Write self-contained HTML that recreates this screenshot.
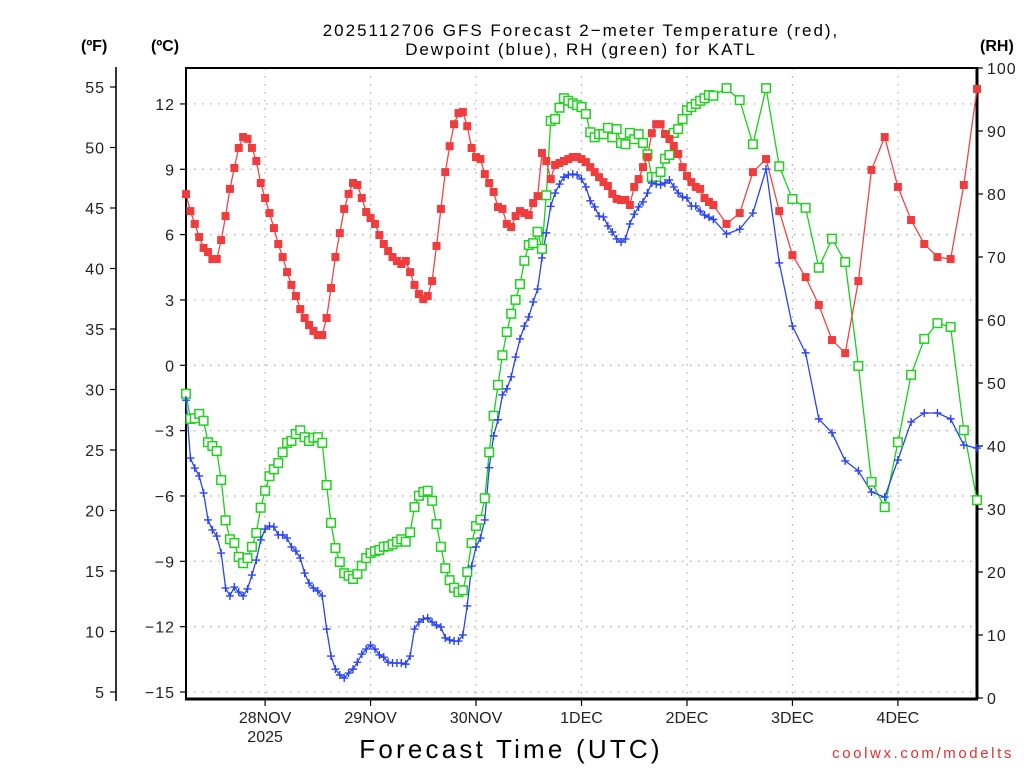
<!DOCTYPE html>
<html><head><meta charset="utf-8"><style>
html,body{margin:0;padding:0;background:#fff;}
svg{display:block;font-family:"Liberation Sans",sans-serif;}
</style></head><body>
<svg id="chart" width="1024" height="768" viewBox="0 0 1024 768">
<g id="grid"></g>
<g id="axes"></g>
<g id="series"></g>
<text x="581" y="36" text-anchor="middle" font-size="17" letter-spacing="2" fill="#000">2025112706 GFS Forecast 2−meter Temperature (red),</text>
<text x="581" y="55" text-anchor="middle" font-size="17" letter-spacing="1.9" fill="#000">Dewpoint (blue), RH (green) for KATL</text>
<text x="81" y="51" font-size="16" font-weight="bold">(ºF)</text>
<text x="151" y="51" font-size="16" font-weight="bold">(ºC)</text>
<text x="980" y="51" font-size="16" font-weight="bold">(RH)</text>
<text x="511" y="758" text-anchor="middle" font-size="26" letter-spacing="3.2">Forecast Time (UTC)</text>
<text x="1014" y="758" text-anchor="end" font-size="15" fill="#e03030" letter-spacing="2.6">coolwx.com/modelts</text>
</svg>
<script>
const dayLabels = ["28NOV","29NOV","30NOV","1DEC","2DEC","3DEC","4DEC"];
const dayHours = [18,42,66,90,114,138,162];
const cTicks = [12,9,6,3,0,-3,-6,-9,-12,-15];
const fTicks = [55,50,45,40,35,30,25,20,15,10,5];
const rhTicks = [100,90,80,70,60,50,40,30,20,10,0];
const temp = [7.86,7.08,6.49,5.89,5.39,5.2,4.88,4.88,5.75,6.85,8.1,9.06,9.98,10.48,10.4,9.98,9.38,8.37,7.68,6.99,6.3,5.57,4.97,4.28,3.69,3.18,2.58,2.17,1.85,1.58,1.39,1.39,2.17,3.55,4.97,6.07,7.18,7.87,8.37,8.28,7.68,7.04,6.76,6.49,5.98,5.57,5.25,4.97,4.79,4.65,4.79,4.28,3.69,3.27,3.04,3.18,3.87,5.48,7.18,8.87,10.06,11.07,11.58,11.63,10.98,9.98,9.56,9.47,8.78,8.37,7.96,7.27,7.18,6.49,6.35,6.85,7.08,6.99,6.9,7.45,7.77,9.75,9.38,8.55,9.2,9.29,9.38,9.47,9.56,9.56,9.47,9.33,9.1,8.87,8.64,8.41,8.23,7.87,7.64,7.59,7.59,7.36,8.19,8.55,9.1,9.56,10.66,11.07,11.07,10.62,10.39,10.07,9.7,9.1,8.69,8.41,8.19,8.1,7.68,7.5,7.36,
6.49,6.99,8.87,9.47,7.08,5.06,4.05,2.77,1.16,0.56,3.87,8.97,10.48,8.19,6.67,5.57,4.97,4.88,8.28,12.69];
const dewpt = [-1.6,-4.26,-4.72,-5.08,-5.86,-7.1,-7.56,-7.84,-8.62,-10.23,-10.59,-10.18,-10.41,-10.59,-10.27,-9.63,-8.94,-8.02,-7.52,-7.38,-7.42,-7.79,-7.79,-7.93,-8.34,-8.53,-8.85,-9.54,-10.0,-10.23,-10.36,-10.59,-12.11,-13.35,-13.95,-14.22,-14.36,-14.13,-13.95,-13.63,-13.26,-13.03,-12.84,-13.03,-13.3,-13.4,-13.63,-13.67,-13.67,-13.67,-13.72,-13.35,-12.11,-11.79,-11.65,-11.6,-11.79,-11.93,-12.02,-12.52,-12.61,-12.66,-12.66,-12.38,-11.05,-9.22,-8.34,-7.93,-7.1,-4.7,-3.24,-2.5,-1.36,-1.08,-0.53,0.38,1.21,1.8,2.22,2.91,3.5,4.93,6.08,7.3,7.91,8.32,8.64,8.74,8.78,8.74,8.55,8.19,7.55,7.27,6.85,6.81,6.4,6.12,5.8,5.66,5.8,6.49,6.94,7.27,7.5,7.91,8.37,8.32,8.28,8.37,8.51,8.19,7.91,7.73,7.68,7.31,7.31,7.08,6.9,6.8,6.7,
6.03,6.25,6.99,9.01,4.7,1.8,0.57,-2.46,-3.1,-4.39,-4.85,-5.82,-6.05,-4.35,-2.6,-2.19,-2.19,-2.46,-3.66,-3.8];
const rh = [48.3,44.3,44.4,45.1,44.0,40.6,40.0,39.2,34.6,28.2,25.2,24.6,22.4,21.4,22.2,24.0,26.2,30.2,32.9,35.2,36.3,37.3,39.0,40.5,40.8,41.9,42.5,41.4,40.8,41.3,41.4,40.5,33.8,27.8,23.8,21.6,19.8,19.4,18.9,19.7,21.0,22.2,23.0,23.3,23.5,24.0,24.1,24.4,24.8,25.2,24.8,26.3,30.3,32.1,32.7,32.9,31.3,27.6,24.0,20.6,18.7,17.5,16.8,17.1,20.0,24.6,27.3,28.3,31.7,39.0,44.8,49.7,54.4,58.1,61.0,63.2,65.7,69.4,71.9,72.2,74.0,71.3,79.8,91.6,91.9,93.7,95.2,94.8,94.4,94.1,93.8,92.7,89.8,89.0,89.5,89.5,90.5,89.0,90.3,88.1,87.9,89.7,88.7,89.5,88.1,86.3,82.7,82.7,83.5,85.6,86.2,89.7,90.3,91.9,93.3,93.8,94.3,94.8,95.2,95.7,95.6,
96.8,94.9,87.9,96.8,84.4,79.2,77.8,68.3,72.9,69.2,52.7,34.3,30.3,40.6,51.3,57.0,59.5,58.9,42.5,31.4];

const NS = "http://www.w3.org/2000/svg";
const X0 = 186, X1 = 977, Y0 = 68, Y1 = 699;
const hours = [];
for (let h = 0; h <= 120; h++) hours.push(h);
for (let h = 123; h <= 180; h += 3) hours.push(h);
function xs(h){ return X0 + (X1 - X0) * h / 180; }
function yc(c){ return 365.3 - c * 21.78; }
function yf(f){ return yc((f - 32) * 5 / 9); }
function yr(r){ return 698 - r * 6.3; }
function mk(tag, attrs, parent){ const e = document.createElementNS(NS, tag); for (const k in attrs) e.setAttribute(k, attrs[k]); parent.appendChild(e); return e; }

const grid = document.getElementById('grid');
const axes = document.getElementById('axes');
const series = document.getElementById('series');

cTicks.forEach(c => {
  const y = yc(c);
  const g = mk('line', {x1:X0, x2:X1, y1:y, y2:y, stroke:'#aaa', 'stroke-width':1.2, 'stroke-dasharray':'1.5 6.5'}, grid);
  
  
  const t = mk('line', {x1:180, x2:X0, y1:y, y2:y, stroke:'#000', 'stroke-width':1.2}, axes);
  
  
  const l = mk('text', {x:175, y:y+6, 'text-anchor':'end', 'font-size':16, 'letter-spacing':1, fill:'#222'}, axes);
  l.textContent = c < 0 ? '−' + Math.abs(c) : String(c);
  
  
});
dayHours.forEach((h, i) => {
  const x = xs(h);
  const g = mk('line', {x1:x, x2:x, y1:Y0, y2:Y1, stroke:'#aaa', 'stroke-width':1.2, 'stroke-dasharray':'1.5 6.5'}, grid);
  
  
  const t = mk('line', {x1:x, x2:x, y1:Y1, y2:Y1+7, stroke:'#000', 'stroke-width':1.2}, axes);
  
  
  const l = mk('text', {x:x, y:723, 'text-anchor':'middle', 'font-size':16, fill:'#222'}, axes);
  l.textContent = dayLabels[i];
  
  
});
const yl = mk('text', {x:xs(18), y:742, 'text-anchor':'middle', 'font-size':16, fill:'#222'}, axes);
yl.textContent = '2025';



const fAx = mk('line', {x1:116, x2:116, y1:67, y2:701, stroke:'#000', 'stroke-width':1.6}, axes);


fTicks.forEach(f => {
  const y = yf(f);
  const t = mk('line', {x1:110, x2:116, y1:y, y2:y, stroke:'#000', 'stroke-width':1.2}, axes);
  
  
  const l = mk('text', {x:105, y:y+6, 'text-anchor':'end', 'font-size':16, 'letter-spacing':1, fill:'#222'}, axes);
  l.textContent = String(f);
  
  
});
rhTicks.forEach(r => {
  const y = yr(r);
  const t = mk('line', {x1:X1, x2:X1+6, y1:y, y2:y, stroke:'#000', 'stroke-width':1.2}, axes);
  
  
  const l = mk('text', {x:987, y:y+6, 'text-anchor':'start', 'font-size':16, 'letter-spacing':1, fill:'#222'}, axes);
  l.textContent = String(r);
  
  
});
const frame = mk('path', {d:`M${X0},${Y1} V${Y0} H${X1} V${Y1}`, fill:'none', stroke:'#000', 'stroke-width':2}, axes);


const rightAx = mk('line', {x1:X1, x2:X1, y1:Y0, y2:Y1, stroke:'#000', 'stroke-width':3}, axes);


const bottom = mk('line', {x1:X0-1, x2:X1+1, y1:Y1, y2:Y1, stroke:'#000', 'stroke-width':3}, axes);



function drawLine(vals, yfn, color, name){
  const pts = vals.map((v,i) => xs(hours[i]).toFixed(1) + ',' + yfn(v).toFixed(1)).join(' ');
  const p = mk('polyline', {points:pts, fill:'none', stroke:color, 'stroke-width':1.3}, series);
  
  
}
drawLine(rh, yr, '#19d119', 'rh-line');
drawLine(dewpt, yc, '#2a44f0', 'dewpoint-line');
drawLine(temp, yc, '#f04545', 'temperature-line');

rh.forEach((v,i) => {
  const x = xs(hours[i]), y = yr(v);
  const m = mk('rect', {x:x-4.3, y:y-4.3, width:8.6, height:8.6, fill:'#fff', stroke:'#22d022', 'stroke-width':1.5}, series);
  
  
});
dewpt.forEach((v,i) => {
  const x = xs(hours[i]), y = yc(v);
  const m = mk('path', {d:`M${x-4},${y} H${x+4} M${x},${y-4} V${y+4}`, stroke:'#2a44f0', 'stroke-width':1.4}, series);
  
  
});
temp.forEach((v,i) => {
  const x = xs(hours[i]), y = yc(v);
  const m = mk('rect', {x:x-4, y:y-4, width:8, height:8, fill:'#f03c3c'}, series);
  
  
});
</script>
</body></html>
